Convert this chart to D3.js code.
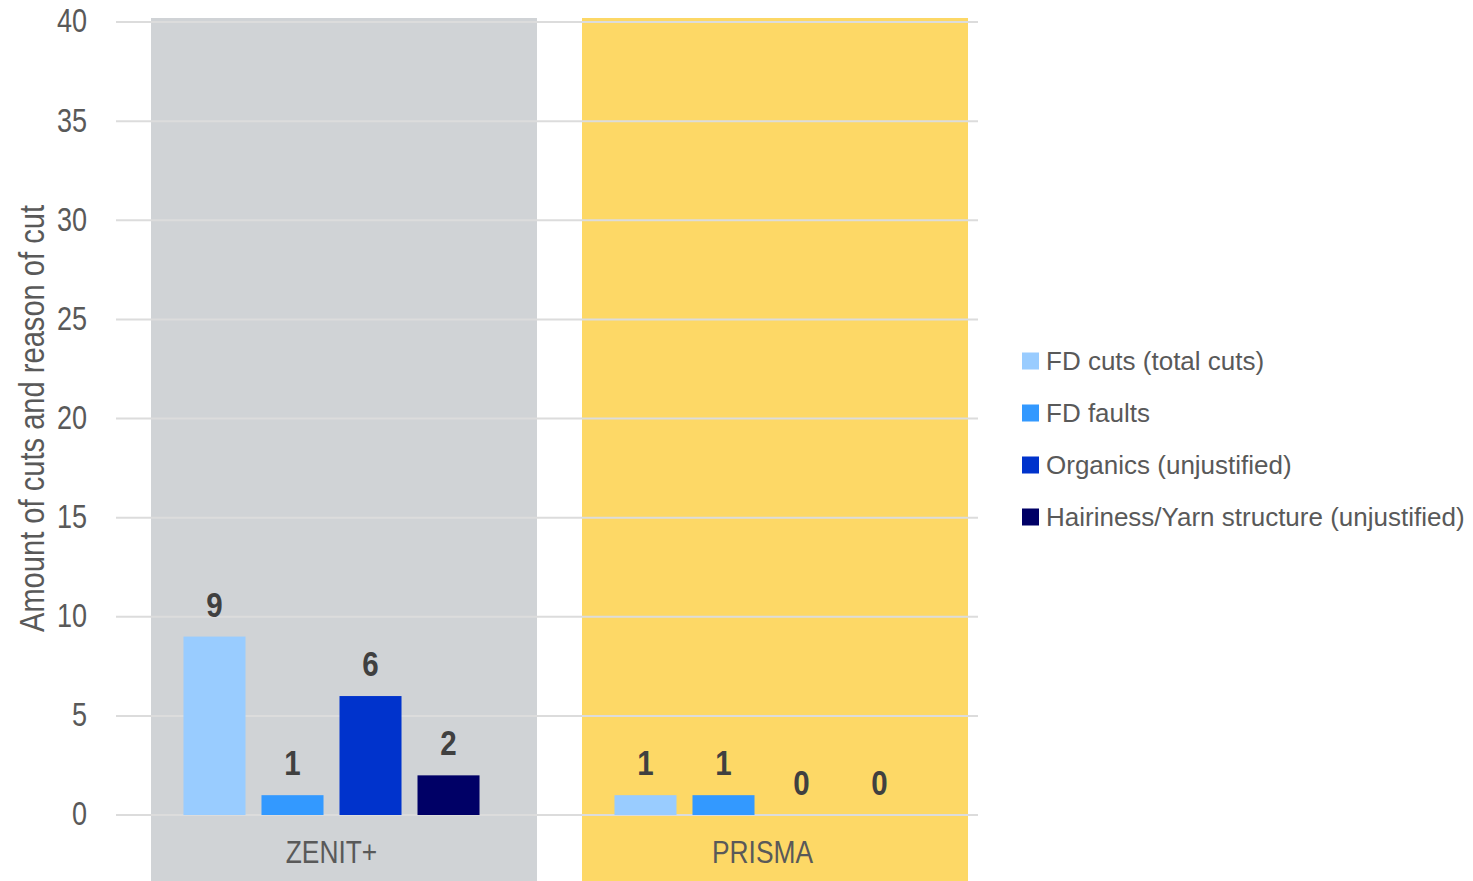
<!DOCTYPE html>
<html>
<head>
<meta charset="utf-8">
<script src="https://cdn.jsdelivr.net/npm/d3@7"></script>
<style>
    body { margin: 0; background: #fff; }
    text { font-family: "Liberation Sans", Arial, sans-serif; }
</style>
</head>
<body>
<div id="chart"></div>
<script>
// Data
var categories = ["ZENIT+", "PRISMA"];
var seriesNames = ["FD cuts (total cuts)", "FD faults", "Organics (unjustified)", "Hairiness/Yarn structure (unjustified)"];
var seriesColors = ["#99ccff", "#3399ff", "#0033cc", "#000066"];
var values = {
    "ZENIT+": [9, 1, 6, 2],
    "PRISMA": [1, 1, 0, 0]
};
var bgColors = ["#d0d3d6", "#fdd866"];
var yTicks = [0, 5, 10, 15, 20, 25, 30, 35, 40];

var W = 1473, H = 881;
var margin = {top: 22, right: 495, bottom: 66, left: 116},
    width = W - margin.left - margin.right,
    height = H - margin.top - margin.bottom;

// narrow look (no Arial Narrow installed): squeeze text horizontally
var NARROW = 0.82;

var svg = d3.select("#chart")
    .append("svg")
    .attr("width", W)
    .attr("height", H);

var g = svg.append("g")
    .attr("transform", `translate(${margin.left},${margin.top})`);

// Scales
var x = d3.scaleBand()
    .domain(categories)
    .range([0, width]);

var xSub = d3.scaleBand()
    .domain(seriesNames)
    .range([0, x.bandwidth()])
    .paddingInner(0.205)
    .paddingOuter(0.865);

var y = d3.scaleLinear()
    .domain([0, 40])
    .range([height, 0]);

// Background panels behind each category
g.selectAll(".bg")
    .data(categories)
    .join("rect")
    .attr("class", "bg")
    .attr("x", d => x(d) + 35)
    .attr("y", y(40) - 4)
    .attr("width", x.bandwidth() - 45)
    .attr("height", H - margin.top - y(40) + 4)
    .attr("fill", (d, i) => bgColors[i]);

// Gridlines
g.selectAll(".grid")
    .data(yTicks)
    .join("line")
    .attr("class", "grid")
    .attr("x1", 0)
    .attr("x2", width)
    .attr("y1", d => y(d))
    .attr("y2", d => y(d))
    .attr("stroke", "#dcdcdc")
    .attr("stroke-width", 2);

// Y axis labels
var yAxis = g.append("g")
    .call(d3.axisLeft(y).tickValues(yTicks).tickSize(0));
yAxis.select(".domain").remove();
yAxis.selectAll("text")
    .attr("x", null)
    .attr("dy", "0.3em")
    .attr("transform", `translate(-29,0) scale(${NARROW},1)`)
    .attr("fill", "#595959")
    .style("font-size", "33px")
    .style("font-family", "'Liberation Sans', Arial, sans-serif");

// Axis title
svg.append("text")
    .attr("transform", `translate(44, ${margin.top + height / 2}) rotate(-90) scale(${NARROW},1)`)
    .attr("text-anchor", "middle")
    .attr("fill", "#595959")
    .style("font-size", "35.5px")
    .text("Amount of cuts and reason of cut");

// Category labels
g.selectAll(".cat")
    .data(categories)
    .join("text")
    .attr("class", "cat")
    .attr("transform", d => `translate(${x(d) + x.bandwidth() / 2},${height + 48}) scale(0.85,1)`)
    .attr("text-anchor", "middle")
    .attr("fill", "#595959")
    .style("font-size", "31px")
    .text(d => d);

// Bars
var groups = g.selectAll(".group")
    .data(categories)
    .join("g")
    .attr("class", "group")
    .attr("transform", d => `translate(${x(d)},0)`);

var cells = groups.selectAll(".cell")
    .data(c => seriesNames.map((s, i) => ({series: s, value: values[c][i], color: seriesColors[i]})))
    .join("g")
    .attr("class", "cell");

cells.filter(d => d.value > 0)
    .append("rect")
    .attr("x", d => xSub(d.series))
    .attr("y", d => y(d.value))
    .attr("width", xSub.bandwidth())
    .attr("height", d => y(0) - y(d.value))
    .attr("fill", d => d.color);

cells.append("text")
    .attr("transform", d => `translate(${xSub(d.series) + xSub.bandwidth() / 2},${y(d.value) - 20}) scale(${NARROW},1)`)
    .attr("text-anchor", "middle")
    .attr("fill", "#404040")
    .style("font-size", "36px")
    .style("font-weight", "bold")
    .text(d => d.value);

// Legend
var legend = svg.append("g")
    .attr("transform", "translate(1022, 361)")
    .selectAll("g")
    .data(seriesNames)
    .join("g")
    .attr("transform", (d, i) => `translate(0, ${i * 52})`);

legend.append("rect")
    .attr("x", 0)
    .attr("y", -8.5)
    .attr("width", 17)
    .attr("height", 17)
    .attr("fill", (d, i) => seriesColors[i]);

legend.append("text")
    .attr("x", 24)
    .attr("y", 0)
    .attr("dy", "0.35em")
    .attr("fill", "#595959")
    .style("font-size", "26px")
    .text(d => d);
</script>
</body>
</html>
